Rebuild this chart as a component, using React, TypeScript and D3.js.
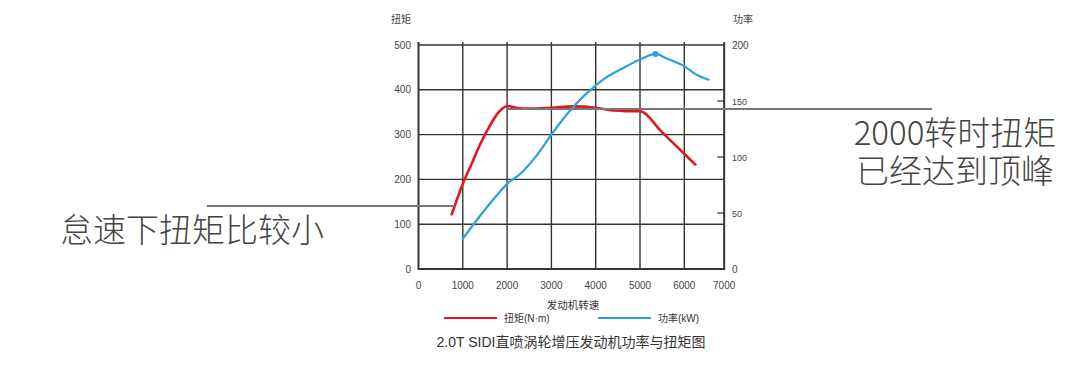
import React from "react";
import * as d3 from "d3";

const torqueRpm = [750, 1000, 1200, 1400, 1600, 1800, 1900, 2000, 2200, 2500, 3000, 3500, 4000, 4300, 4600, 5000, 5500, 6000, 6250];
const torqueVal = [122, 190, 235, 280, 318, 349, 359, 364, 360, 358, 360, 363, 360, 355, 353, 352, 305, 257, 233];

const powerRpm = [1000, 1400, 1750, 2000, 2300, 2700, 3000, 3500, 4000, 4200, 4600, 5000, 5350, 5600, 6000, 6300, 6550];
const powerVal = [27, 48, 65, 76, 85, 103, 120, 145, 164, 170, 179, 187, 192, 188, 181, 173, 169];

const peakPower = { rpm: 5350, val: 192 };

const xTicks = [0, 1000, 2000, 3000, 4000, 5000, 6000, 7000];
const leftTicks = [0, 100, 200, 300, 400, 500];
const rightTicks = [0, 50, 100, 150, 200];

const leftTitle = "扭矩";
const rightTitle = "功率";
const xTitle = "发动机转速";
const legendTorque = "扭矩(N·m)";
const legendPower = "功率(kW)";
const chartTitle = "2.0T SIDI直喷涡轮增压发动机功率与扭矩图";
const noteLeft = "怠速下扭矩比较小";
const noteRight1 = "2000转时扭矩";
const noteRight2 = "已经达到顶峰";

const FONT = "'Liberation Sans', 'Noto Sans CJK SC', sans-serif";
const CJK = "'Noto Sans CJK SC', 'Noto Sans', sans-serif";
const RED = "#e3151f";
const BLUE = "#2aa0dc";
const GRID = "#3a3431";

export default function App() {
  const x = d3.scaleLinear().domain([0, 7000]).range([418.5, 728.6]);
  const yL = d3.scaleLinear().domain([0, 500]).range([269, 45]);
  const yR = d3.scaleLinear().domain([0, 200]).range([269, 45]);
  const left = x(0);
  const right = x(6900);
  const top = yL(500);
  const bottom = yL(0);

  const torqueLine = d3
    .line<number>()
    .x((_, i) => x(torqueRpm[i]))
    .y((d) => yL(d))
    .curve(d3.curveMonotoneX)(torqueVal) as string;
  const powerLine = d3
    .line<number>()
    .x((_, i) => x(powerRpm[i]))
    .y((d) => yR(d))
    .curve(d3.curveMonotoneX)(powerVal) as string;

  return (
    <svg
      width={1080}
      height={368}
      style={{ position: "absolute", left: 0, top: 0, background: "#fff" }}
    >
      {leftTicks.map((t) => (
        <line key={"h" + t} x1={left} x2={right} y1={yL(t)} y2={yL(t)} stroke={GRID} strokeWidth={t === 0 ? 2 : 1.4} />
      ))}
      {xTicks.filter((t) => t > 0 && t < 7000).map((t) => (
        <line key={"v" + t} x1={x(t)} x2={x(t)} y1={top - 3} y2={bottom} stroke={GRID} strokeWidth={1.4} />
      ))}
      <line x1={left} x2={left} y1={top - 3} y2={bottom + 1} stroke={GRID} strokeWidth={2} />
      <line x1={right} x2={right} y1={top - 3} y2={bottom + 1} stroke={GRID} strokeWidth={2} />
      {rightTicks.filter((t) => t > 0 && t < 200).map((t) => (
        <line key={"rt" + t} x1={right - 7} x2={right} y1={yR(t)} y2={yR(t)} stroke={GRID} strokeWidth={1.2} />
      ))}

      {leftTicks.map((t) => (
        <text key={"ll" + t} x={411} y={yL(t) + 3.5} textAnchor="end" fontSize={10} fill="#444" fontFamily={FONT}>
          {t}
        </text>
      ))}
      {rightTicks.map((t) => (
        <text key={"rl" + t} x={732} y={yR(t) + 3.5} textAnchor="start" fontSize={t === 0 || t === 200 ? 10 : 9} fill="#444" fontFamily={FONT}>
          {t}
        </text>
      ))}
      {xTicks.map((t) => (
        <text key={"xl" + t} x={t === 7000 ? x(6900) : x(t)} y={289} textAnchor="middle" fontSize={10} fill="#444" fontFamily={FONT}>
          {t}
        </text>
      ))}
      <text x={401} y={23} textAnchor="middle" fontSize={10} fill="#444" fontFamily={CJK}>{leftTitle}</text>
      <text x={743} y={23} textAnchor="middle" fontSize={10} fill="#444" fontFamily={CJK}>{rightTitle}</text>
      <text x={573} y={308.5} textAnchor="middle" fontSize={10.5} fill="#333" fontFamily={CJK}>{xTitle}</text>

      <path d={torqueLine} fill="none" stroke={RED} strokeWidth={2.6} strokeLinejoin="round" strokeLinecap="round" />
      <path d={powerLine} fill="none" stroke={BLUE} strokeWidth={2.2} strokeLinejoin="round" strokeLinecap="round" />
      <circle cx={x(peakPower.rpm)} cy={yR(peakPower.val)} r={3} fill={BLUE} />

      <line x1={444} x2={497} y1={318} y2={318} stroke={RED} strokeWidth={2} />
      <text x={504} y={321.5} fontSize={10} fill="#333" fontFamily={FONT}>{legendTorque}</text>
      <line x1={598} x2={651} y1={318} y2={318} stroke={BLUE} strokeWidth={2} />
      <text x={658} y={321.5} fontSize={10} fill="#333" fontFamily={FONT}>{legendPower}</text>

      <text x={571} y={347} textAnchor="middle" fontSize={14} fill="#333" fontFamily={FONT}>{chartTitle}</text>

      <line x1={207} x2={x(torqueRpm[0]) + 3} y1={206} y2={206} stroke="#777" strokeWidth={2} />
      <line x1={x(2000)} x2={932} y1={109} y2={109} stroke="#777" strokeWidth={2} />
      <text x={60} y={242} fontSize={33} fill="#444" fontFamily={CJK} fontWeight={300}>{noteLeft}</text>
      <text textAnchor="middle" fontSize={33} fill="#444" fontFamily={CJK} fontWeight={300}>
        <tspan x={955} y={145}>{noteRight1}</tspan>
        <tspan x={955} y={183}>{noteRight2}</tspan>
      </text>
    </svg>
  );
}
